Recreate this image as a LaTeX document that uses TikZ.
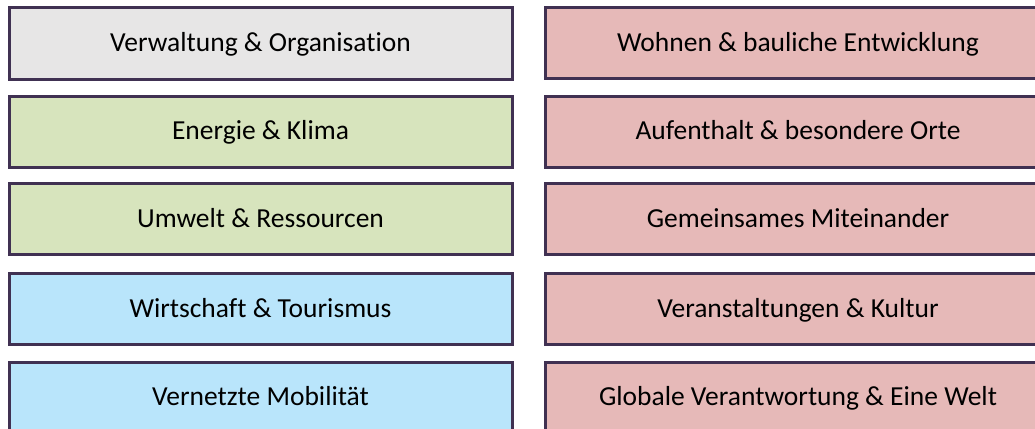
\documentclass[tikz,border=0pt]{standalone}
\usepackage{fontspec}
\setmainfont{Carlito}[Ligatures={NoCommon}]
\definecolor{bordc}{HTML}{403152}
\definecolor{grayf}{HTML}{E7E6E6}
\definecolor{greenf}{HTML}{D7E4BD}
\definecolor{bluef}{HTML}{B9E5FB}
\definecolor{pinkf}{HTML}{E6B9B8}
\tikzset{
  box/.style={draw=bordc, line width=3pt, rectangle, minimum height=71pt, inner sep=0pt, font=\fontsize{27.5}{32}\selectfont, text=black, text height=20pt, text depth=3.5pt},
  lbox/.style={box, minimum width=503pt},
  rbox/.style={box, minimum width=505pt},
}
\begin{document}
\begin{tikzpicture}[x=1pt,y=-1pt]
\useasboundingbox (0,0) rectangle (1035,428);
\clip (0,0) rectangle (1035,428);
\node[lbox, fill=grayf] (l1) at (260.5,43.5) {Verwaltung \& Organisation};
\node[lbox, fill=greenf] (l2) at (260.5,131.5) {Energie \& Klima};
\node[lbox, fill=greenf] (l3) at (260.5,219.3) {Umwelt \& Ressourcen};
\node[lbox, fill=bluef] (l4) at (260.5,309) {Wirtschaft \& Tourismus};
\node[lbox, fill=bluef] (l5) at (260.5,397.5) {Vernetzte Mobilität};
\node[rbox, fill=pinkf] (r1) at (798,43) {Wohnen \& bauliche Entwicklung};
\node[rbox, fill=pinkf] (r2) at (798,131.5) {Aufenthalt \& besondere Orte};
\node[rbox, fill=pinkf] (r3) at (798,219.3) {Gemeinsames Miteinander};
\node[rbox, fill=pinkf] (r4) at (798,309) {Veranstaltungen \& Kultur};
\node[rbox, fill=pinkf] (r5) at (798,397.5) {Globale Verantwortung \& Eine Welt};
\end{tikzpicture}
\end{document}
